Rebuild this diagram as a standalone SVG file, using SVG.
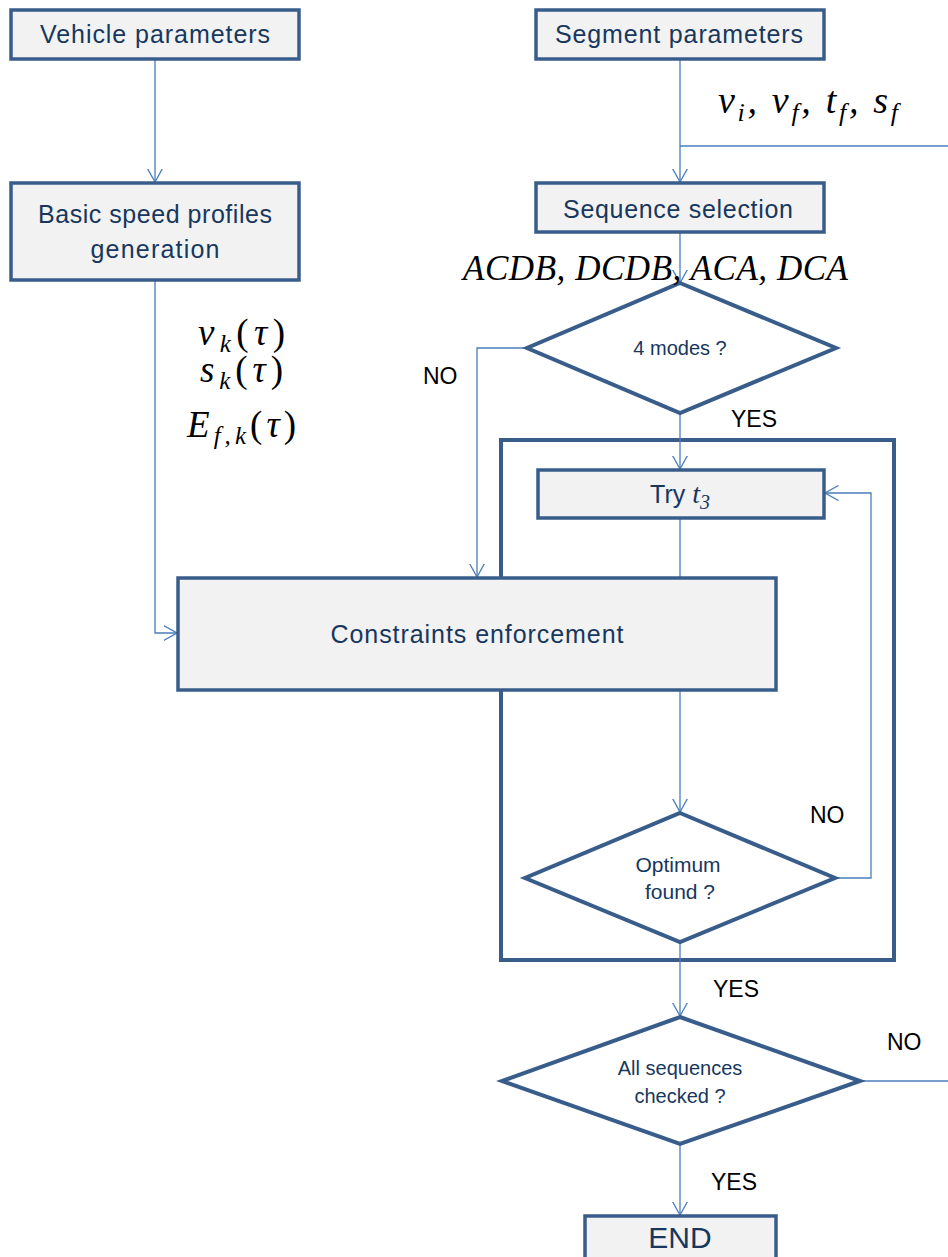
<svg xmlns="http://www.w3.org/2000/svg" width="948" height="1257" viewBox="0 0 948 1257">
<style>
.box{fill:#F2F2F2;stroke:#385D8A;stroke-width:3.5}
.dia{fill:#FFFFFF;stroke:#385D8A;stroke-width:4}
.frame{fill:none;stroke:#385D8A;stroke-width:4}
.lbl{font-family:"Liberation Sans",Arial,sans-serif;fill:#17375E;text-anchor:middle}
.yn{font-family:"Liberation Sans",Arial,sans-serif;fill:#000;font-size:23px}
.math{font-family:"Liberation Serif","Times New Roman",serif;font-style:italic;fill:#000}
.con{fill:none;stroke:#4A7EBB;stroke-width:1.3}
</style>
<defs>
<marker id="arr" viewBox="0 0 14 16" refX="13.5" refY="8" markerWidth="14" markerHeight="16" markerUnits="userSpaceOnUse" orient="auto">
<path d="M0,0.5 L13.5,8 L0,15.5" fill="none" stroke="#4A7EBB" stroke-width="1.3"/>
</marker>
</defs>

<g id="loop-frame"><rect class="frame" x="501" y="440" width="393" height="520"/></g>

<g id="connectors">
<path class="con" d="M155,60 V182" marker-end="url(#arr)"/>
<path class="con" d="M680,60 V182" marker-end="url(#arr)"/>
<path class="con" d="M948,146 H680"/>
<path class="con" d="M680,233 V283" marker-end="url(#arr)"/>
<path class="con" d="M527,348 H477 V577" marker-end="url(#arr)"/>
<path class="con" d="M680,413 V469" marker-end="url(#arr)"/>
<path class="con" d="M680,518 V578"/>
<path class="con" d="M155,280 V633 H177" marker-end="url(#arr)"/>
<path class="con" d="M680,690 V812" marker-end="url(#arr)"/>
<path class="con" d="M835,878 H871 V493 H825" marker-end="url(#arr)"/>
<path class="con" d="M680,942 V1016" marker-end="url(#arr)"/>
<path class="con" d="M860,1081 H948"/>
<path class="con" d="M680,1144 V1215" marker-end="url(#arr)"/>
</g>

<g id="vehicle">
<rect class="box" x="11" y="10" width="288" height="49"/>
<text class="lbl" x="155" y="43" font-size="25" textLength="230">Vehicle parameters</text>
</g>
<g id="segment">
<rect class="box" x="536" y="10" width="288" height="49"/>
<text class="lbl" x="679" y="43" font-size="25" textLength="248">Segment parameters</text>
</g>
<g id="basic">
<rect class="box" x="11" y="183" width="288" height="97"/>
<text class="lbl" x="155" y="223" font-size="25" textLength="234">Basic speed profiles</text>
<text class="lbl" x="155" y="258" font-size="25" textLength="129">generation</text>
</g>
<g id="sequence">
<rect class="box" x="536" y="183" width="288" height="49"/>
<text class="lbl" x="678" y="218" font-size="25" textLength="230">Sequence selection</text>
</g>
<g id="modes">
<polygon class="dia" points="680,283 836,348 680,413 527,348"/>
<text class="lbl" x="680" y="355" font-size="20">4 modes ?</text>
</g>
<g id="try">
<rect class="box" x="538" y="470" width="286" height="48"/>
<text class="lbl" x="680" y="503" font-size="25">Try <tspan font-family="Liberation Serif" font-style="italic" font-size="28">t</tspan><tspan font-family="Liberation Serif" font-style="italic" font-size="20" dy="6">3</tspan></text>
</g>
<g id="constraints">
<rect class="box" x="178" y="578" width="598" height="112"/>
<text class="lbl" x="477" y="643" font-size="25" textLength="293">Constraints enforcement</text>
</g>
<g id="optimum">
<polygon class="dia" points="680,813 835,878 680,942 525,878"/>
<text class="lbl" x="678" y="872" font-size="21">Optimum</text>
<text class="lbl" x="680" y="899" font-size="21">found ?</text>
</g>
<g id="allseq">
<polygon class="dia" points="680,1017 860,1081 680,1144 502,1081"/>
<text class="lbl" x="680" y="1075" font-size="20">All sequences</text>
<text class="lbl" x="680" y="1103" font-size="20">checked ?</text>
</g>
<g id="end">
<rect class="box" x="585" y="1216" width="191" height="50"/>
<text class="lbl" x="680" y="1248" font-size="30">END</text>
</g>

<g id="labels">
<text class="yn" x="423" y="384">NO</text>
<text class="yn" x="731" y="427">YES</text>
<text class="yn" x="810" y="823">NO</text>
<text class="yn" x="713" y="997">YES</text>
<text class="yn" x="887" y="1050">NO</text>
<text class="yn" x="711" y="1190">YES</text>
<text class="math" x="718" y="113" font-size="38" textLength="180">v<tspan font-size="26" dy="8">i</tspan><tspan dy="-8">, v</tspan><tspan font-size="26" dy="8">f</tspan><tspan dy="-8">, t</tspan><tspan font-size="26" dy="8">f</tspan><tspan dy="-8">, s</tspan><tspan font-size="26" dy="8">f</tspan></text>
<text class="math" x="463" y="280" font-size="35" textLength="385">ACDB, DCDB, ACA, DCA</text>
<text class="math" x="198" y="345" font-size="37" textLength="87">v<tspan font-size="25" dy="7">k</tspan><tspan dy="-7" font-style="normal">(</tspan>τ<tspan font-style="normal">)</tspan></text>
<text class="math" x="200" y="382" font-size="37" textLength="83">s<tspan font-size="25" dy="7">k</tspan><tspan dy="-7" font-style="normal">(</tspan>τ<tspan font-style="normal">)</tspan></text>
<text class="math" x="187" y="437" font-size="37" textLength="109">E<tspan font-size="25" dy="7">f,k</tspan><tspan dy="-7" font-style="normal">(</tspan>τ<tspan font-style="normal">)</tspan></text>
</g>
</svg>
